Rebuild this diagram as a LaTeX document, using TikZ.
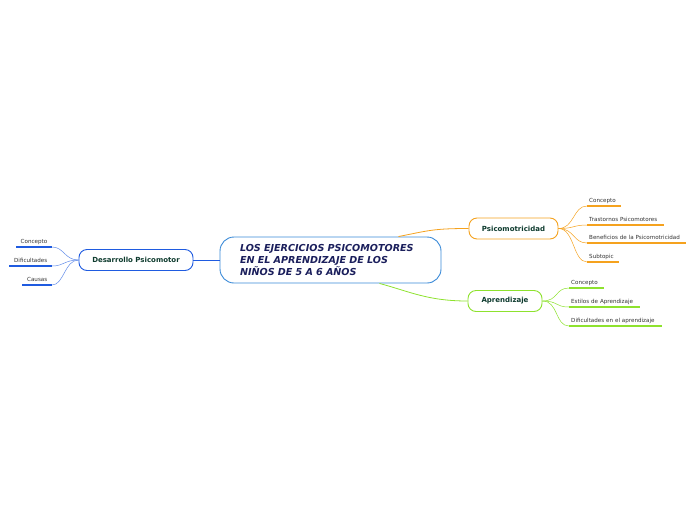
\documentclass[tikz,border=0pt]{standalone}
\usepackage{fontspec}
\setmainfont{DejaVu Sans}
\definecolor{cblue}{HTML}{3A8AD8}
\definecolor{dblue}{HTML}{1F5BE0}
\definecolor{corange}{HTML}{F5A21E}
\definecolor{cgreen}{HTML}{8EE22E}
\definecolor{navy}{HTML}{1B1F5C}
\definecolor{dgreen}{HTML}{0E3B2E}
\definecolor{tgray}{HTML}{333333}
\tikzset{
  central/.style={draw=cblue, line width=0.9pt, rounded corners=14pt, fill=white, minimum width=221pt, minimum height=46pt, font=\fontsize{9.6}{12}\selectfont\bfseries\itshape, text=navy, align=left, text width=181pt, inner xsep=0pt},
  branch/.style={draw=#1, line width=0.9pt, rounded corners=8pt, fill=white, minimum height=21pt, font=\fontsize{7}{8}\selectfont\bfseries, text=dgreen, inner sep=0pt},
  sub/.style={font=\fontsize{5.6}{6}\selectfont, text=tgray, text height=4pt, text depth=1pt, inner ysep=2.5pt, inner xsep=2pt},
  lsub/.style={sub, inner xsep=4.5pt},
  uline/.style={draw=#1, line width=1.6pt},
  conn/.style={draw=#1, line width=0.8pt},
  thin/.style={draw=#1, line width=0.5pt}
}
\begin{document}
\begin{tikzpicture}[x=1pt,y=-1pt]
\useasboundingbox (0,0) rectangle (696,520);
% central
\node[central] (cen) at (330.5,260) {LOS EJERCICIOS PSICOMOTORES\\EN EL APRENDIZAJE DE LOS\\NIÑOS DE 5 A 6 AÑOS};
% branches
\node[branch=corange, minimum width=89pt] (psi) at (513.5,228.5) {Psicomotricidad};
\node[branch=cgreen, minimum width=74pt] (apr) at (505,301) {Aprendizaje};
\node[branch=dblue, minimum width=114pt] (des) at (136,260) {Desarrollo Psicomotor};
% main connectors
\draw[conn=corange] ([xshift=68pt]cen.north) .. controls +(30,-6) and +(-35,0) .. (psi.west);
\draw[conn=cgreen] ([xshift=49pt]cen.south) .. controls +(30,8) and +(-40,0) .. (apr.west);
\draw[conn=dblue] (cen.west) -- (des.east);
% Psicomotricidad subtopics
\node[sub, anchor=south west, text width=30pt] (p1) at (587,206) {\mbox{Concepto}};
\node[sub, anchor=south west, text width=73pt] (p2) at (587,225) {\mbox{Trastornos Psicomotores}};
\node[sub, anchor=south west, text width=95pt] (p3) at (587,243) {\mbox{Beneficios de la Psicomotricidad}};
\node[sub, anchor=south west, text width=28pt] (p4) at (587,262) {\mbox{Subtopic}};
\foreach \n in {p1,p2,p3,p4}{
  \draw[uline=corange] (\n.south west) -- (\n.south east);
  \draw[thin=corange] (psi.east) .. controls +(16,0) and +(-14,0) .. (\n.south west);
}
% Aprendizaje subtopics
\node[sub, anchor=south west, text width=31pt] (a1) at (569,288) {\mbox{Concepto}};
\node[sub, anchor=south west, text width=67pt] (a2) at (569,307) {\mbox{Estilos de Aprendizaje}};
\node[sub, anchor=south west, text width=89pt] (a3) at (569,326) {\mbox{Dificultades en el aprendizaje}};
\foreach \n in {a1,a2,a3}{
  \draw[uline=cgreen] (\n.south west) -- (\n.south east);
  \draw[thin=cgreen] (apr.east) .. controls +(16,0) and +(-14,0) .. (\n.south west);
}
% Desarrollo subtopics
\node[lsub, anchor=south east] (d1) at (52,247) {Concepto};
\node[lsub, anchor=south east] (d2) at (52,266) {Dificultades};
\node[lsub, anchor=south east] (d3) at (52,285) {Causas};
\foreach \n in {d1,d2,d3}{
  \draw[uline=dblue] (\n.south west) -- (\n.south east);
  \draw[thin=dblue!70] (des.west) .. controls +(-14,0) and +(12,0) .. (\n.south east);
}
\end{tikzpicture}
\end{document}
